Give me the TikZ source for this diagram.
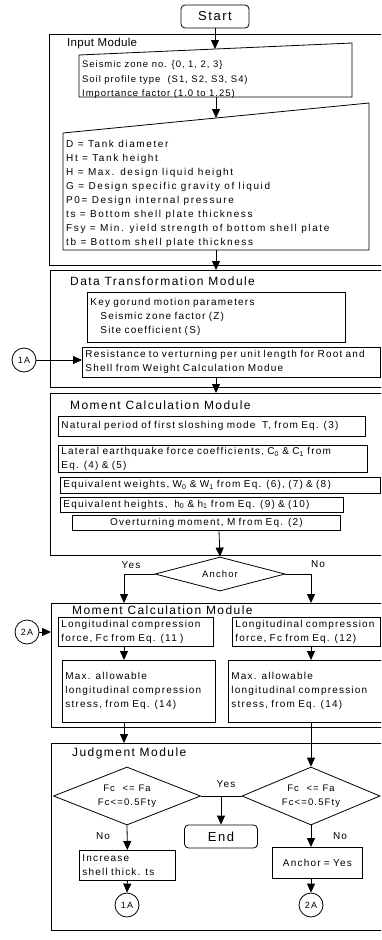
\documentclass[tikz,border=0pt]{standalone}
\usepackage{fontspec}
\setmainfont{Liberation Sans}[LetterSpace=12]
\usetikzlibrary{arrows.meta,shapes.geometric}
\tikzset{
  module/.style={draw, line width=0.8pt, rectangle, anchor=north west, inner sep=0pt},
  box/.style={draw, line width=0.8pt, rectangle, anchor=north west, inner xsep=3pt, inner ysep=2pt,
              font=\fontsize{10}{14}\selectfont, align=left},
  txt/.style={anchor=north west, inner sep=0pt, font=\fontsize{10}{14}\selectfont, align=left},
  ttl/.style={anchor=west, inner sep=0pt, font=\fontsize{12}{14}\selectfont},
  term/.style={draw, line width=0.8pt, rounded corners=4pt, inner sep=0pt, font=\fontsize{13}{15}\selectfont},
  conn/.style={draw, circle, line width=0.8pt, minimum size=24pt, inner sep=0pt, font=\fontsize{9}{10}\selectfont},
  dec/.style={draw, diamond, aspect=3, line width=0.8pt, inner sep=0pt, align=center, font=\fontsize{9.5}{14}\selectfont},
  lbl/.style={inner sep=0pt, font=\fontsize{10}{12}\selectfont},
  arr/.style={-{Triangle[width=8pt,length=9pt]}, line width=0.8pt},
  ln/.style={line width=0.8pt}
}
\begin{document}
\begin{tikzpicture}[x=1pt,y=-1pt]
\useasboundingbox (0,0) rectangle (381,940);
\clip (0,0) rectangle (381,940);
\fill[white] (0,0) rectangle (381,940);

% axes
\coordinate (spine) at (216,0);
\coordinate (ax) at (219,0);
\coordinate (yx) at (124,0);
\coordinate (nx) at (311,0);

% Start
\node[term, minimum width=68pt, minimum height=23pt] (start) at (215,16.5) {Start};

% ---------- Input module
\node[module, minimum width=346pt, minimum height=231pt] (inmod) at (49,34) {};
\node[ttl, font=\fontsize{11.5}{14}\selectfont\addfontfeature{LetterSpace=3}] (tin) at (67,44) {Input Module};
\coordinate (b1a) at (79,55);
\coordinate (b1b) at (352,43);
\coordinate (b1c) at (352,97);
\coordinate (b1d) at (79,97);
\draw[ln] (b1a) -- (b1b) -- (b1c) -- (b1d) -- cycle;
\node[txt, font=\fontsize{9.5}{14.5}\selectfont\addfontfeature{LetterSpace=10}] (b1t) at (82,60.5)
  {Seismic zone no. \{0, 1, 2, 3\}\\Soil profile type\ \ (S1, S2, S3, S4)\\Importance factor (1.0 to 1.25)};
\coordinate (b1top) at (215,49);
\coordinate (b1bot) at (216,97);

\coordinate (b2a) at (63,133);
\coordinate (b2b) at (369,103);
\coordinate (b2c) at (369,250);
\coordinate (b2d) at (63,250);
\draw[ln] (b2a) -- (b2b) -- (b2c) -- (b2d) -- cycle;
\node[txt, font=\fontsize{10}{14}\selectfont\addfontfeature{LetterSpace=16}] (b2t) at (66,140.5)
  {D = Tank diameter\\Ht = Tank height\\H = Max. design liquid height\\G = Design specific gravity of liquid\\P0= Design internal pressure\\ts = Bottom shell plate thickness\\Fsy = Min. yield strength of bottom shell plate\\tb = Bottom shell plate thickness};
\coordinate (b2top) at (216,118);
\coordinate (b2bot) at (216,250);

\draw[arr] (start.south) -- (b1top);
\draw[arr] (b1bot) -- (b2top);

% ---------- Data transformation module
\node[module, minimum width=345pt, minimum height=117pt] (dtm) at (50,270) {};
\draw[arr] (b2bot) -- (b2bot |- dtm.north);
\node[ttl] (tdtm) at (70,281) {Data Transformation Module};
\node[box, text width=252pt, minimum height=50pt] (key) at (87,292)
  {Key gorund motion parameters\\\hspace*{10pt}Seismic zone factor (Z)\\\hspace*{10pt}Site coefficient (S)};
\node[box, text width=292pt, minimum height=30pt] (res) at (82,347)
  {Resistance to verturning per unit length for Root and\\Shell from Weight Calculation Modue};
\node[conn] (c1a) at (24,360) {1A};
\draw[arr] (c1a.east) -- (c1a.east -| res.west);

% ---------- Moment calculation module 1
\node[module, minimum width=345pt, minimum height=162pt] (mc1) at (50,393) {};
\draw[arr] (res.south -| spine) -- (spine |- mc1.north);
\node[ttl] (tmc1) at (70,405) {Moment Calculation Module};
\node[box, text width=301pt, minimum height=20pt] (nat) at (58,416)
  {Natural period of first sloshing mode\ \ T, from Eq. (3)};
\node[box, text width=303pt, minimum height=27pt] (lat) at (58,445)
  {Lateral earthquake force coefficients, C\textsubscript{0} \& C\textsubscript{1} from\\Eq. (4) \& (5)};
\node[box, text width=314pt, minimum height=16pt] (wts) at (60,477)
  {Equivalent weights, W\textsubscript{0} \& W\textsubscript{1} from Eq. (6), (7) \& (8)};
\node[box, text width=277pt, minimum height=14.5pt, inner ysep=1pt] (hts) at (60,497)
  {Equivalent heights,\ \ h\textsubscript{0} \& h\textsubscript{1} from Eq. (9) \& (10)};
\node[box, text width=262pt, minimum height=15pt, inner ysep=1pt, align=center] (ovt) at (72,515)
  {Overturning moment, M from Eq. (2)};

\node[dec, minimum width=130pt, minimum height=34pt] (anc) at (220,574) {Anchor};
\draw[arr] (ovt.south -| ax) -- (anc.north);

% ---------- Moment calculation module 2
\node[module, minimum width=344pt, minimum height=124pt] (mc2) at (51,603) {};
\draw[arr] (anc.west) -| (yx |- mc2.north);
\draw[arr] (anc.east) -| (nx |- mc2.north);
\node[lbl] (lyes) at (131,565) {Yes};
\node[lbl] (lno) at (318,564) {No};
\node[ttl] (tmc2) at (72,610) {Moment Calculation Module};
\node[box, text width=149pt, minimum height=29pt] (lc1) at (58,617)
  {Longitudinal compression\\force, Fc from Eq. (11 )};
\node[box, text width=142pt, minimum height=29pt] (lc2) at (232,617)
  {Longitudinal compression\\force, Fc from Eq. (12)};
\node[conn] (c2a) at (27,632) {2A};
\draw[arr] (c2a.east) -- (c2a.east -| mc2.west);
\node[box, text width=147pt, minimum height=62pt] (ma1) at (62,660)
  {Max. allowable\\longitudinal compression\\stress, from Eq. (14)};
\node[box, text width=148pt, minimum height=62pt] (ma2) at (228,660)
  {Max. allowable\\longitudinal compression\\stress, from Eq. (14)};
\draw[arr] (lc1.south -| yx) -- (yx |- ma1.north);
\draw[arr] (lc2.south -| nx) -- (nx |- ma2.north);

% ---------- Judgment module
\node[module, minimum width=344pt, minimum height=187pt] (jm) at (51,743) {};
\draw[arr] (ma1.south -| yx) -- (yx |- jm.north);
\node[ttl] (tjm) at (72,753) {Judgment Module};
\node[dec, minimum width=147pt, minimum height=58pt] (d1) at (127,796) {Fc \ <= Fa\\Fc<=0.5Fty};
\node[dec, minimum width=138pt, minimum height=58pt] (d2) at (311,796) {Fc \ <= Fa\\Fc<=0.5Fty};
\draw[arr] (ma2.south -| nx) -- (d2.north);
\node[term, minimum width=73pt, minimum height=23pt] (end) at (221,836.5) {End};
\draw[ln] (d1.east) -- (d2.west);
\draw[arr] (end.north |- d1.east) -- (end.north);
\node[lbl] (lyes2) at (226,784) {Yes};
\node[box, text width=90pt, minimum height=30pt] (inc) at (79,850) {Increase\\shell thick. ts};
\draw[arr] (d1.south) -- (inc.north);
\node[lbl] (lno1) at (103,836) {No};
\node[conn] (c1b) at (127,905) {1A};
\draw[arr] (inc.south) -- (c1b.north);
\node[box, text width=84pt, minimum height=31pt, align=center] (anc2) at (272,847) {Anchor = Yes};
\draw[arr] (d2.south) -- (d2.south |- anc2.north);
\node[lbl] (lno2) at (340,836) {No};
\node[conn] (c2b) at (311,905) {2A};
\draw[arr] (anc2.south -| c2b) -- (c2b.north);
\end{tikzpicture}
\end{document}
